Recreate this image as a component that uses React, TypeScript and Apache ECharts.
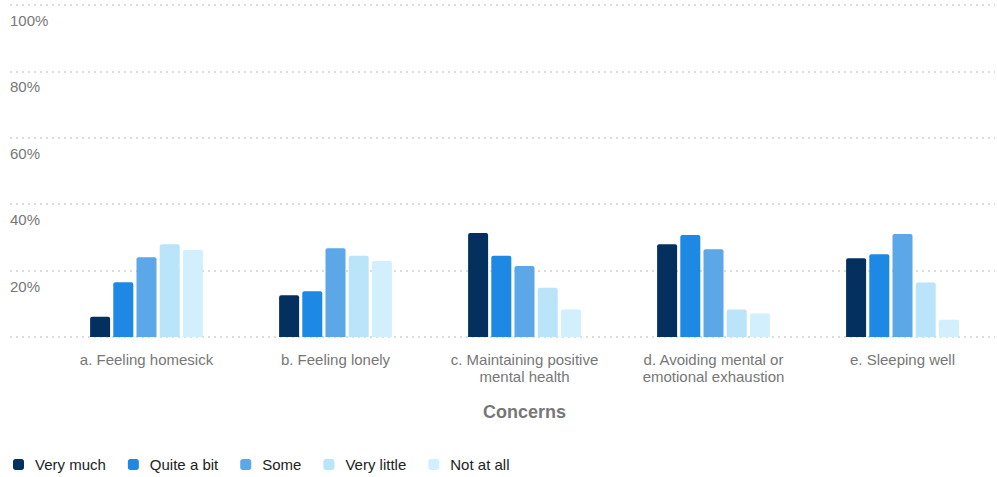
import React, { useEffect, useRef } from "react";
import * as echarts from "echarts";

const categories = [
  "a. Feeling homesick",
  "b. Feeling lonely",
  "c. Maintaining positive\nmental health",
  "d. Avoiding mental or\nemotional exhaustion",
  "e. Sleeping well",
];
const seriesNames = ["Very much", "Quite a bit", "Some", "Very little", "Not at all"];
const veryMuch = [6.1, 12.6, 31.3, 27.9, 23.7];
const quiteABit = [16.5, 13.8, 24.5, 30.7, 24.9];
const some = [24.0, 26.7, 21.4, 26.4, 31.0];
const veryLittle = [27.9, 24.5, 14.8, 8.3, 16.4];
const notAtAll = [26.3, 22.9, 8.3, 7.1, 5.2];
const yTicks = [0, 20, 40, 60, 80, 100];
const colors = ["#03305f", "#1e88e5", "#5ba7e8", "#b9e4fa", "#d1effd"];

export default function App() {
  const ref = useRef<HTMLDivElement>(null);
  useEffect(() => {
    if (!ref.current) return;
    const chart = echarts.init(ref.current, null, { renderer: "svg" });
    const values = [veryMuch, quiteABit, some, veryLittle, notAtAll];
    const font = "'Liberation Sans', Arial, sans-serif";
    chart.setOption({
      animation: false,
      textStyle: { fontFamily: font },
      grid: [
        { left: 10, right: 2, top: 5, height: 332, containLabel: false },
        { left: 52, right: 0, top: 5, height: 332, containLabel: false },
      ],
      legend: {
        left: 8,
        top: 452,
        itemWidth: 11,
        itemHeight: 11,
        itemGap: 22,
        icon: "roundRect",
        data: seriesNames,
        textStyle: { fontSize: 15, color: "#222", fontFamily: font, padding: [0, 0, 0, 6] },
      },
      xAxis: [
        {
          gridIndex: 0,
          type: "value",
          show: false,
          min: 0,
          max: 1,
        },
        {
          gridIndex: 1,
          type: "category",
          data: categories,
          axisLine: { show: false },
          axisTick: { show: false },
          axisLabel: {
            interval: 0,
            fontSize: 15,
            color: "#777",
            margin: 14,
            lineHeight: 17,
            fontFamily: font,
          },
          name: "Concerns",
          nameLocation: "middle",
          nameGap: 66,
          nameTextStyle: { fontSize: 18, fontWeight: "bold", color: "#777", fontFamily: font },
        },
      ],
      yAxis: [
        {
          gridIndex: 0,
          type: "value",
          min: yTicks[0],
          max: yTicks[yTicks.length - 1],
          interval: 20,
          axisLine: { show: false },
          axisTick: { show: false },
          splitLine: { show: true, lineStyle: { color: "#dcdcdc", width: 2, type: [2, 4] } },
          axisLabel: {
            inside: true,
            margin: 0,
            verticalAlign: "top",
            padding: [8, 0, 0, 0],
            fontSize: 15,
            color: "#777",
            fontFamily: font,
            formatter: (v: number) => (v === 0 ? "" : v + "%"),
          },
        },
        {
          gridIndex: 1,
          type: "value",
          min: yTicks[0],
          max: yTicks[yTicks.length - 1],
          show: false,
          splitLine: { show: false },
        },
      ],
      series: seriesNames.map((name, i) => ({
        name,
        type: "bar",
        xAxisIndex: 1,
        yAxisIndex: 1,
        data: values[i],
        barWidth: 20,
        barGap: "16%",
        itemStyle: { color: colors[i], borderRadius: [2, 2, 0, 0] },
      })),
    });
    return () => chart.dispose();
  }, []);
  return <div ref={ref} style={{ width: 997, height: 477, position: "absolute", left: 0, top: 0 }} />;
}
